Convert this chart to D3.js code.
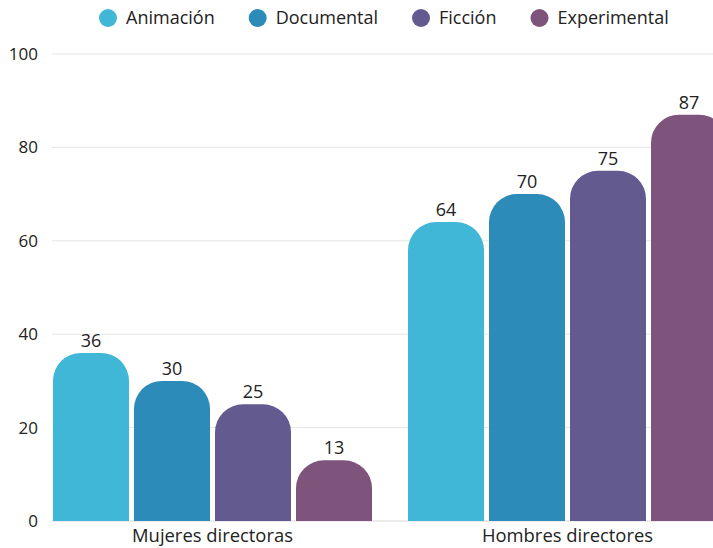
<!DOCTYPE html>
<html>
<head>
<meta charset="utf-8">
<script src="https://cdn.jsdelivr.net/npm/d3@7"></script>
<style>
  html, body { margin: 0; padding: 0; background: #fff; }
  svg { display: block; font-family: "Open Sans", sans-serif; }
</style>
</head>
<body>
<svg id="chart" width="713" height="548"></svg>
<script>
const groups = ["Mujeres directoras", "Hombres directores"];
const series = ["Animación", "Documental", "Ficción", "Experimental"];
const colors = ["#41b7d7", "#2d8bba", "#635a90", "#7e547c"];
const values = {
  "Mujeres directoras": [36, 30, 25, 13],
  "Hombres directores": [64, 70, 75, 87]
};
const yTicks = [0, 20, 40, 60, 80, 100];

const W = 713, H = 548;
const plot = { left: 52, top: 54, bottom: 521 };
const svg = d3.select("#chart");

const y = d3.scaleLinear().domain([0, 100]).range([plot.bottom, plot.top]);
const x0 = d3.scaleBand().domain(groups).range([53, 727]).paddingInner(36 / 355);
const x1 = d3.scaleBand().domain(series).range([0, x0.bandwidth()]).paddingInner(5 / 81);
const color = d3.scaleOrdinal().domain(series).range(colors);

// grid lines
svg.append("g")
  .selectAll("line")
  .data(yTicks)
  .join("line")
  .attr("x1", plot.left).attr("x2", W)
  .attr("y1", d => y(d)).attr("y2", d => y(d))
  .attr("stroke", d => d === 0 ? "#d9d9d9" : "#e6e6e6")
  .attr("stroke-width", 1);

// y axis labels
svg.append("g")
  .selectAll("text")
  .data(yTicks)
  .join("text")
  .attr("x", 38)
  .attr("y", d => y(d))
  .attr("dy", "0.35em")
  .attr("text-anchor", "end")
  .attr("font-size", 17)
  .attr("fill", "#222")
  .text(d => d);

// rounded-top bar path
function topRounded(x, yTop, w, yBase, r) {
  const rr = Math.min(r, w / 2, yBase - yTop);
  return `M${x},${yBase}V${yTop + rr}` +
    `A${rr},${rr} 0 0 1 ${x + rr},${yTop}` +
    `H${x + w - rr}` +
    `A${rr},${rr} 0 0 1 ${x + w},${yTop + rr}` +
    `V${yBase}Z`;
}

svg.append("defs").append("clipPath").attr("id", "plotClip")
  .append("rect").attr("x", 0).attr("y", 0).attr("width", W).attr("height", H);

const gBars = svg.append("g").attr("clip-path", "url(#plotClip)");
groups.forEach(g => {
  const gg = gBars.append("g").attr("transform", `translate(${x0(g)},0)`);
  const data = series.map((s, i) => ({ s, v: values[g][i] }));
  gg.selectAll("path")
    .data(data)
    .join("path")
    .attr("d", d => topRounded(x1(d.s), y(d.v), x1.bandwidth(), y(0), 28))
    .attr("fill", d => color(d.s));
  gg.selectAll("text")
    .data(data)
    .join("text")
    .attr("x", d => x1(d.s) + x1.bandwidth() / 2)
    .attr("y", d => y(d.v) - 6)
    .attr("text-anchor", "middle")
    .attr("font-size", 18)
    .attr("fill", "#222")
    .text(d => d.v);
});

// category labels
svg.append("g")
  .selectAll("text")
  .data(groups)
  .join("text")
  .attr("x", d => x0(d) + x0.bandwidth() / 2)
  .attr("y", 542)
  .attr("text-anchor", "middle")
  .attr("font-size", 18.4)
  .attr("fill", "#222")
  .text(d => d);

// legend
const legend = svg.append("g");
let cx = 108;
series.forEach(s => {
  legend.append("circle").attr("cx", cx).attr("cy", 18).attr("r", 9).attr("fill", color(s));
  const t = legend.append("text")
    .attr("x", cx + 18).attr("y", 18).attr("dy", "0.35em")
    .attr("font-size", 18).attr("fill", "#222").text(s);
  cx += 18 + t.node().getComputedTextLength() + 43;
});
</script>
</body>
</html>
